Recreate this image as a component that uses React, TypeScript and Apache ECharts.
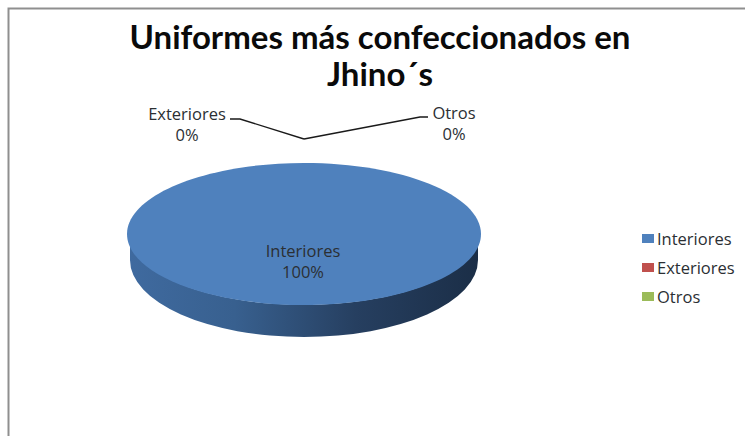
import React, { useEffect, useRef } from "react";
import * as echarts from "echarts";

const titleText = "Uniformes más confeccionados en\nJhino´s";
const categories = ["Interiores", "Exteriores", "Otros"];
const values = [100, 0, 0];
const colors = ["#4f81bd", "#c0504d", "#9bbb59"];
const percentLabels = ["100%", "0%", "0%"];

const TITLE_FONT = "Lato";
const FONT = "Open Sans";
const CX = 304, CY = 234, RX = 177, RY = 71, DEPTH = 32, RX_B = 174;
const labelPos = [
  { x: 303, y: 260.5 },
  { x: 187, y: 124 },
  { x: 454, y: 123 },
];
const leaders: (number[][] | null)[] = [
  null,
  [[230, 119], [240, 119], [304, 139]],
  [[428, 117], [420, 117], [304, 139]],
];

const total = values.reduce((a, b) => a + b, 0);

function makeSeries(idx: number) {
  const before = values.slice(0, idx).reduce((a, b) => a + b, 0);
  const a0 = (before / total) * Math.PI * 2 - Math.PI / 2;
  const a1 = ((before + values[idx]) / total) * Math.PI * 2 - Math.PI / 2;
  return {
    type: "custom",
    name: categories[idx],
    coordinateSystem: "none",
    itemStyle: { color: colors[idx] },
    silent: true,
    z: idx === 0 ? 2 : 3,
    data: [values[idx]],
    renderItem: () => {
      const children: any[] = [];
      const v = values[idx];
      if (v > 0) {
        const yB = CY + DEPTH;
        children.push({
          type: "path",
          shape: {
            pathData: `M${CX - RX_B} ${CY} A${RX_B} ${RY} 0 0 0 ${CX + RX_B} ${CY} L${CX + RX_B} ${yB - 6} A${RX_B} ${RY + 6} 0 0 1 ${CX - RX_B} ${yB - 6} Z`,
          },
          style: {
            fill: new echarts.graphic.LinearGradient(0, 0, 1, 0, [
              { offset: 0, color: "#3f6a9f" },
              { offset: 0.3, color: "#38608f" },
              { offset: 0.65, color: "#263f60" },
              { offset: 1, color: "#1b2e47" },
            ]),
          },
        });
        if (v >= total) {
          children.push({
            type: "ellipse",
            shape: { cx: CX, cy: CY, rx: RX, ry: RY },
            style: { fill: colors[idx] },
          });
        } else {
          const px = (a: number) => CX + RX * Math.cos(a);
          const py = (a: number) => CY + RY * Math.sin(a);
          children.push({
            type: "path",
            shape: {
              pathData: `M${CX} ${CY} L${px(a0)} ${py(a0)} A${RX} ${RY} 0 ${a1 - a0 > Math.PI ? 1 : 0} 1 ${px(a1)} ${py(a1)} Z`,
            },
            style: { fill: colors[idx] },
          });
        }
      }
      const line = leaders[idx];
      if (line) {
        children.push({
          type: "polyline",
          shape: { points: line },
          style: { fill: "none", stroke: "#1a1a1a", lineWidth: 1.4 },
        });
      }
      children.push({
        type: "text",
        x: labelPos[idx].x,
        y: labelPos[idx].y,
        style: {
          text: `${categories[idx]}\n${percentLabels[idx]}`,
          fill: "#2b2f33",
          font: `16.5px '${FONT}'`,
          lineHeight: 21,
          align: "center",
          verticalAlign: "middle",
        },
      });
      return { type: "group", children };
    },
  };
}

export default function App() {
  const ref = useRef<HTMLDivElement>(null);
  useEffect(() => {
    document.body.style.margin = "0";
    const chart = echarts.init(ref.current!, undefined, { renderer: "svg" });
    chart.setOption({
      animation: false,
      backgroundColor: "#ffffff",
      title: {
        text: titleText,
        left: 375,
        top: 12,
        textAlign: "center",
        textStyle: {
          fontFamily: TITLE_FONT,
          fontWeight: "bold",
          fontSize: 33,
          lineHeight: 37,
          color: "#0a0a0a",
        },
      },
      legend: {
        orient: "vertical",
        left: 642,
        top: 229,
        padding: 0,
        itemWidth: 12,
        itemHeight: 9,
        itemGap: 10,
        icon: "rect",
        data: categories,
        selectedMode: false,
        textStyle: { fontFamily: FONT, fontSize: 16.5, color: "#2b2f33", padding: [0, 0, 0, -2], lineHeight: 19 },
      },
      graphic: [
        {
          type: "polyline",
          shape: { points: [[8.5, 436], [8.5, 8.5], [745, 8.5]] },
          style: { fill: "none", stroke: "#8f8f8f", lineWidth: 2 },
        },
      ],
      series: categories.map((_, i) => makeSeries(i)),
    });
    return () => chart.dispose();
  }, []);
  return <div ref={ref} style={{ width: 745, height: 436, position: "fixed", left: 0, top: 0 }} />;
}
